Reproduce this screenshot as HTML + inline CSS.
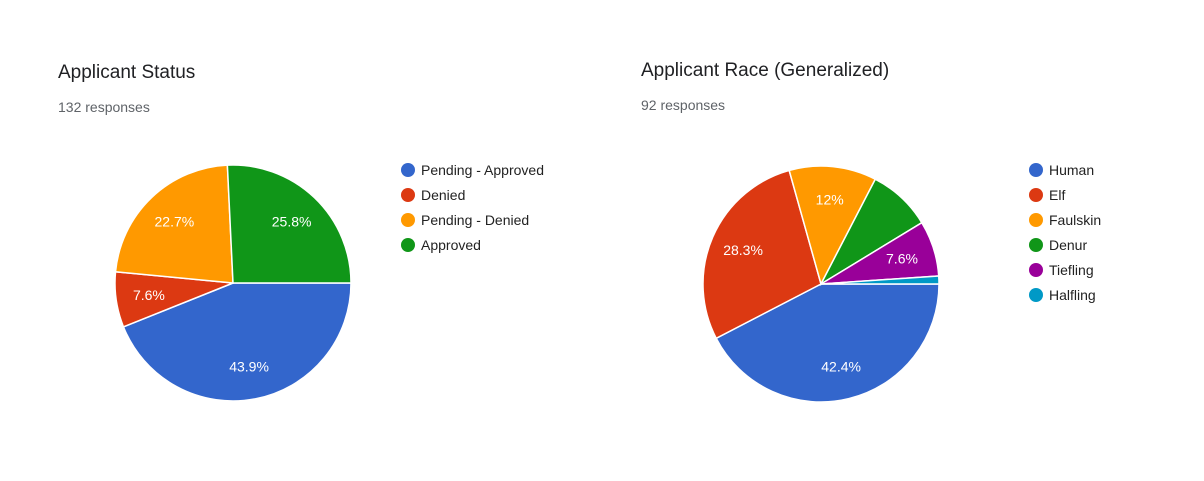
<!DOCTYPE html>
<html><head><meta charset="utf-8"><style>
body{margin:0;background:#fff;width:1204px;height:476px;overflow:hidden;font-family:"Liberation Sans",Arial,sans-serif}
</style></head><body>
<svg id="s" width="1204" height="476" xmlns="http://www.w3.org/2000/svg">
<text x="58" y="78" font-size="19" fill="#202124">Applicant Status</text>
<text x="58" y="112" font-size="14" fill="#5f6368">132 responses</text>
<text x="641" y="76" font-size="19" fill="#202124">Applicant Race (Generalized)</text>
<text x="641" y="110" font-size="14" fill="#5f6368">92 responses</text>
</svg>
<script>
const statusCategories=["Pending - Approved","Denied","Pending - Denied","Approved"];
const statusValues=[58,10,30,34];
const statusLabels=["43.9%","7.6%","22.7%","25.8%"];
const raceCategories=["Human","Elf","Faulskin","Denur","Tiefling","Halfling"];
const raceValues=[39,26,11,8,7,1];
const raceLabels=["42.4%","28.3%","12%","","7.6%",""];
const colors=["#3366cc","#dc3912","#ff9900","#109618","#990099","#0099c6"];
const NS="http://www.w3.org/2000/svg";
const svg=document.getElementById('s');
function mk(t,a){const e=document.createElementNS(NS,t);for(const k in a)e.setAttribute(k,a[k]);svg.appendChild(e);return e;}
function pie(prefix,cx,cy,r,vals,labels,cats,lx,ly){
  const tot=vals.reduce((a,b)=>a+b,0);let a0=0;
  vals.forEach((v,i)=>{
    const a1=a0+v/tot*2*Math.PI;
    const x0=cx+r*Math.cos(a0),y0=cy+r*Math.sin(a0),x1=cx+r*Math.cos(a1),y1=cy+r*Math.sin(a1);
    const large=(a1-a0)>Math.PI?1:0;
    const p=mk('path',{d:`M${cx},${cy}L${x0},${y0}A${r},${r} 0 ${large} 1 ${x1},${y1}Z`,fill:colors[i],stroke:'#fff','stroke-width':1.5});
    
    
    if(labels[i]){
      const m=(a0+a1)/2;
      const t=mk('text',{x:cx+r*0.72*Math.cos(m),y:cy+r*0.72*Math.sin(m)+5,'text-anchor':'middle','font-size':14,fill:'#fff'});
      t.textContent=labels[i];
      
      
    }
    a0=a1;
  });
  cats.forEach((c,i)=>{
    const y=ly+i*25;
    const d=mk('circle',{cx:lx,cy:y,r:7,fill:colors[i]});
    
    
    const t=mk('text',{x:lx+13,y:y+5,'font-size':14,fill:'#222'});
    t.textContent=c;
    
    
  });
}
pie('status',233,283,118,statusValues,statusLabels,statusCategories,408,170);
pie('race',821,284,118,raceValues,raceLabels,raceCategories,1036,170);
</script>
</body></html>
